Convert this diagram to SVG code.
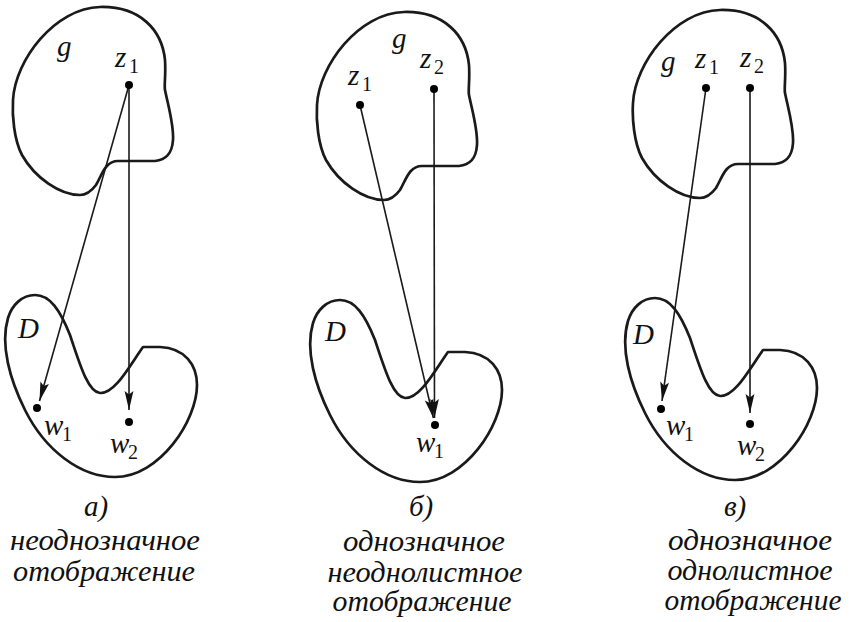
<svg xmlns="http://www.w3.org/2000/svg" xmlns:xlink="http://www.w3.org/1999/xlink" width="852" height="622" viewBox="0 0 852 622">
<style>
.blob{fill:none;stroke:#1a1a1a;stroke-width:2.7;stroke-linejoin:round}
.ln{fill:none;stroke:#1a1a1a;stroke-width:1.6}
.dot{fill:#000}
.m{font-family:"Liberation Serif",serif;font-style:italic;font-size:29px;fill:#111}
.s{font-family:"Liberation Serif",serif;font-style:normal;font-size:20px;fill:#111}
.cap{font-family:"Liberation Serif",serif;font-style:italic;font-size:29px;fill:#111;text-anchor:middle}
</style>
<defs>
<path id="gshape" d="M 165,90 C 168,105 174,125 173,140 C 172,155 165,160 155,161 L 118,161 C 105,161 102,175 96,185 C 90,193 85,195 80,195 C 60,195 35,178 22,155 C 14,140 12,115 13,100 C 15,60 55,8 100,7 C 140,6 162,30 165,60 C 166,75 164,85 165,90 Z"/>
<path id="dshape" d="M 35,295 C 50,295 60,310 70,335 C 80,365 88,392 100,393 C 115,394 130,365 143,347 L 160,347 C 185,348 197,365 197,385 C 197,420 160,477 115,477 C 80,477 45,450 25,410 C 10,380 0,345 8,318 C 12,305 22,295 35,295 Z"/>
<marker id="arr" markerUnits="userSpaceOnUse" markerWidth="22" markerHeight="12" refX="20" refY="6" orient="auto" viewBox="0 0 22 12">
<path d="M20,6 L1,1.6 L4.5,6 L1,10.4 Z" fill="#111"/>
</marker>
</defs>

<g id="panel-a-g"><use xlink:href="#gshape" class="blob"/></g>
<g id="panel-a-D"><use xlink:href="#dshape" class="blob"/></g>
<g id="panel-b-g"><use xlink:href="#gshape" class="blob" transform="translate(304,5)"/></g>
<g id="panel-b-D"><use xlink:href="#dshape" class="blob" transform="translate(305,5)"/></g>
<g id="panel-c-g"><use xlink:href="#gshape" class="blob" transform="translate(620,3)"/></g>
<g id="panel-c-D"><use xlink:href="#dshape" class="blob" transform="translate(620,3)"/></g>

<g id="connectors">
<line class="ln" x1="129" y1="85" x2="39.5" y2="401" marker-end="url(#arr)"/>
<line class="ln" x1="129" y1="85" x2="129" y2="410" marker-end="url(#arr)"/>
<line class="ln" x1="360" y1="105" x2="433.4" y2="418" marker-end="url(#arr)"/>
<line class="ln" x1="434" y1="89" x2="434.5" y2="418" marker-end="url(#arr)"/>
<line class="ln" x1="706" y1="88" x2="662" y2="401" marker-end="url(#arr)"/>
<line class="ln" x1="750" y1="88" x2="750" y2="413" marker-end="url(#arr)"/>
</g>

<g id="points">
<circle class="dot" cx="129" cy="85" r="4"/>
<circle class="dot" cx="37" cy="408" r="4"/>
<circle class="dot" cx="129" cy="422" r="4"/>
<circle class="dot" cx="360" cy="105" r="4"/>
<circle class="dot" cx="434" cy="89" r="4"/>
<circle class="dot" cx="435" cy="425" r="4"/>
<circle class="dot" cx="706" cy="88" r="4"/>
<circle class="dot" cx="750" cy="88" r="4"/>
<circle class="dot" cx="661" cy="409" r="4"/>
<circle class="dot" cx="750" cy="424" r="4"/>
</g>

<g id="labels">
<text class="m" x="57" y="56">g</text>
<text class="m" x="115" y="67">z</text><text class="s" x="129" y="73">1</text>
<text class="m" x="18" y="338">D</text>
<text class="m" x="44" y="435">w</text><text class="s" x="62" y="441">1</text>
<text class="m" x="110" y="453">w</text><text class="s" x="128" y="459">2</text>

<text class="m" x="392" y="48">g</text>
<text class="m" x="348" y="85">z</text><text class="s" x="362" y="91">1</text>
<text class="m" x="420" y="68">z</text><text class="s" x="434" y="74">2</text>
<text class="m" x="325" y="341">D</text>
<text class="m" x="416" y="452">w</text><text class="s" x="434" y="458">1</text>

<text class="m" x="661" y="71">g</text>
<text class="m" x="695" y="68">z</text><text class="s" x="709" y="74">1</text>
<text class="m" x="740" y="67">z</text><text class="s" x="754" y="73">2</text>
<text class="m" x="633" y="344">D</text>
<text class="m" x="666" y="435">w</text><text class="s" x="684" y="441">1</text>
<text class="m" x="737" y="455">w</text><text class="s" x="755" y="461">2</text>
</g>

<g id="captions">
<text class="cap" x="96" y="516">а)</text>
<text class="cap" x="105" y="550" textLength="190" lengthAdjust="spacingAndGlyphs">неоднозначное</text>
<text class="cap" x="104" y="581" textLength="182" lengthAdjust="spacingAndGlyphs">отображение</text>

<text class="cap" x="421" y="516">б)</text>
<text class="cap" x="424" y="551" textLength="162" lengthAdjust="spacingAndGlyphs">однозначное</text>
<text class="cap" x="425" y="582" textLength="195" lengthAdjust="spacingAndGlyphs">неоднолистное</text>
<text class="cap" x="422" y="611" textLength="179" lengthAdjust="spacingAndGlyphs">отображение</text>

<text class="cap" x="735" y="516">в)</text>
<text class="cap" x="750" y="550" textLength="164" lengthAdjust="spacingAndGlyphs">однозначное</text>
<text class="cap" x="750" y="580" textLength="165" lengthAdjust="spacingAndGlyphs">однолистное</text>
<text class="cap" x="753" y="610" textLength="177" lengthAdjust="spacingAndGlyphs">отображение</text>
</g>
</svg>
